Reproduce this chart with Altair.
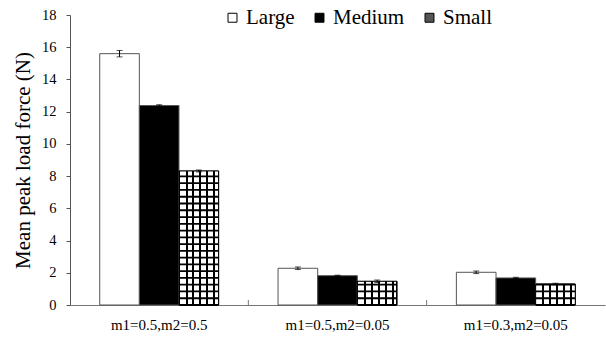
import altair as alt
import pandas as pd

groups = ["m1=0.5,m2=0.5", "m1=0.5,m2=0.05", "m1=0.3,m2=0.05"]
sizes = ["Large", "Medium", "Small"]
large_vals = [15.6, 2.28, 2.03]
medium_vals = [12.38, 1.82, 1.68]
small_vals = [8.32, 1.47, 1.3]
large_err = [0.2, 0.08, 0.08]
medium_err = [0.05, 0.03, 0.04]
small_err = [0.06, 0.08, 0.05]
y_ticks = [0, 2, 4, 6, 8, 10, 12, 14, 16, 18]

rows = []
for i, g in enumerate(groups):
    for s, v, e in zip(sizes, [large_vals[i], medium_vals[i], small_vals[i]],
                       [large_err[i], medium_err[i], small_err[i]]):
        rows.append({"group": g, "size": s, "value": v, "err": e})
df = pd.DataFrame(rows)

FONT = "Liberation Serif, Times New Roman, serif"
W, H = 535, 290

xo = alt.XOffset("size:N", sort=sizes,
                 scale=alt.Scale(domain=sizes, paddingOuter=0.75, paddingInner=0))
y_scale = alt.Scale(domain=[0, 18], nice=False)
y_axis = alt.Axis(values=y_ticks, grid=False, labelOverlap=False,
                  title="Mean peak load force (N)",
                  labelFont=FONT, labelFontSize=14.5, labelColor="black",
                  titleFont=FONT, titleFontSize=21, titleFontWeight="normal",
                  titleColor="black", titlePadding=8,
                  tickSize=4, tickColor="#555", domainColor="#555", labelPadding=10)
x_axis = alt.Axis(labelAngle=0, ticks=False, labelPadding=12, title=None,
                  labelFont=FONT, labelFontSize=15, labelColor="black",
                  domainColor="#777", domainWidth=1.2)
gx = alt.X("group:N", sort=groups, axis=x_axis,
           scale=alt.Scale(paddingInner=0, paddingOuter=0))


def Y(field):
    return alt.Y(field, scale=y_scale, axis=y_axis)


base = alt.Chart(df)

bars = base.mark_bar(stroke="#555", strokeWidth=1).encode(
    x=gx,
    xOffset=xo,
    y=Y("value:Q"),
    fill=alt.Fill("size:N", scale=alt.Scale(domain=sizes, range=["white", "black", "#555"]),
                  legend=alt.Legend(title=None, orient="none", direction="horizontal",
                                    legendX=152, legendY=-8,
                                    symbolType="square", symbolSize=80,
                                    symbolStrokeColor="black", symbolStrokeWidth=1,
                                    labelFont=FONT, labelFontSize=21, labelColor="black",
                                    columnPadding=14, labelOffset=3)),
)

# vertical grid lines inside the Small bars (pattern)
stops = [{"offset": 0, "color": "black"}]
for p in [0.04, 0.19, 0.365, 0.54, 0.715, 0.89, 0.96]:
    a, b = max(p - 0.025, 0), min(p + 0.025, 1)
    if p == 0.04:
        stops += [{"offset": a, "color": "black"}, {"offset": a, "color": "white"}]
        continue
    if p == 0.96:
        stops += [{"offset": b, "color": "white"}, {"offset": b, "color": "black"}]
        continue
    stops += [{"offset": a, "color": "white"}, {"offset": a, "color": "black"},
              {"offset": b, "color": "black"}, {"offset": b, "color": "white"}]
stops.append({"offset": 1, "color": "black"})
grad = alt.LinearGradient(gradient="linear", x1=0, y1=0, x2=1, y2=0, stops=stops)

small = base.transform_filter(alt.datum.size == "Small")
small_bars = small.mark_bar(stroke="black", strokeWidth=1, fill=grad).encode(
    x=gx, xOffset=xo, y=Y("value:Q"),
)
hlines = small.transform_calculate(
    lines="sequence(0, datum.value, 0.42)"
).transform_flatten(["lines"]).mark_tick(
    color="black", thickness=1.8, size=39, opacity=1
).encode(
    x=gx, xOffset=xo, y=Y("lines:Q"),
)

err = base.transform_calculate(
    lo="datum.value - datum.err", hi="datum.value + datum.err")
err_rule = err.mark_rule(color="black", strokeWidth=1).encode(
    x=gx, xOffset=xo, y=Y("lo:Q"), y2="hi:Q")
cap_lo = err.mark_tick(color="black", thickness=1, size=6).encode(
    x=gx, xOffset=xo, y=Y("lo:Q"))
cap_hi = err.mark_tick(color="black", thickness=1, size=6).encode(
    x=gx, xOffset=xo, y=Y("hi:Q"))

# category separator ticks on the x axis (pointing upward)
sep = alt.Chart(pd.DataFrame({"group": groups[1:]})).mark_rule(
    color="#777", strokeWidth=1).encode(
    x=alt.X("group:N", sort=groups, bandPosition=0, axis=x_axis,
            scale=alt.Scale(paddingInner=0, paddingOuter=0)),
    y=alt.value(H), y2=alt.value(H - 5))

chart = alt.layer(bars, small_bars, hlines, err_rule, cap_lo, cap_hi, sep).properties(
    width=W, height=H,
    autosize=alt.AutoSizeParams(type="none"),
    padding={"left": 70, "top": 15, "right": 1, "bottom": 41},
).configure(font=FONT).configure_view(stroke=None)

chart.save("out.html", embed_options={"renderer": "svg", "actions": False})
